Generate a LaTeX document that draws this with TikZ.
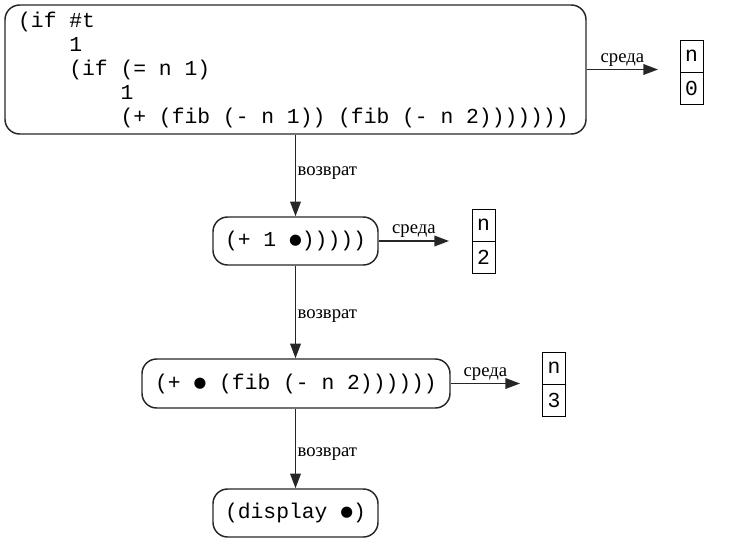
\documentclass[tikz,border=0pt]{standalone}
\usepackage{fontspec}
\setmainfont{Liberation Serif}
\setmonofont{Liberation Mono}
\newfontfamily\symfont{DejaVu Sans}
\usetikzlibrary{arrows.meta,positioning}
\newcommand{\hole}{\makebox[0.6em]{\raisebox{1.4pt}{\symfont\fontsize{11}{11}\selectfont ●}}}

\begin{document}
\begin{tikzpicture}[x=0.75pt,y=-0.75pt,
  expr/.style={draw=black!85,line width=1.1pt,rounded corners=11pt,inner sep=0pt,font=\ttfamily\fontsize{16}{18}\selectfont},
  cell/.style={draw,line width=0.6pt,inner sep=0pt,outer sep=0pt,minimum width=17.25pt,minimum height=24pt,font=\ttfamily\fontsize{16}{18}\selectfont},
  link/.style={draw=black!85,line width=1.1pt,-{Triangle[length=11pt,width=8pt]}},
  lbl/.style={font=\fontsize{14}{16}\selectfont,inner sep=2pt}]
 \useasboundingbox (0,0) rectangle (733,543);
 % expressions
 \node[expr,minimum width=435.75pt,minimum height=96.75pt,text width=416pt,align=left] (ifexpr) at (295.5,69.5)
   {\spaceskip=0.6em\relax\xspaceskip=0.6em\relax
    (if \#t\\\hspace*{2.4em}1\\\hspace*{2.4em}(if (= n 1)\\\hspace*{4.8em}1\\\hspace*{4.8em}(+ (fib (- n 1)) (fib (- n 2)))))))};
 \node[expr,minimum width=123.75pt,minimum height=36pt] (call1) at (295.5,241) {(+ 1 \hole)))))};
 \node[expr,minimum width=231pt,minimum height=36.75pt] (call2) at (296,383.5) {(+ \hole{} (fib (- n 2))))))};
 \node[expr,minimum width=123.75pt,minimum height=36pt] (call3) at (295.5,513) {(display \hole)};
 % environments
 \node[cell] (n0) at (691.5,56) {n}; \node[cell,below=0pt of n0] (v0) {0};
 \node[cell] (n2) at (483.5,225) {n}; \node[cell,below=0pt of n2] (v2) {2};
 \node[cell] (n3) at (554,368) {n}; \node[cell,below=0pt of n3] (v3) {3};
 \coordinate (e0) at (658,69.5);
 \coordinate (e2) at (449,241);
 \coordinate (e3) at (520,383.5);
 \draw[link] (ifexpr.east) -- node[lbl,above]{среда} (e0);
 \draw[link] (call1.east) -- node[lbl,above]{среда} (e2);
 \draw[link] (call2.east) -- node[lbl,above]{среда} (e3);
 \draw[link] (ifexpr.south) -- node[lbl,right,inner sep=1pt,yshift=2pt]{возврат} (call1.north);
 \draw[link] (call1.south) -- node[lbl,right,inner sep=1pt,yshift=-3pt]{возврат} (call2.north -| call1.south);
 \draw[link] (call2.south -| call3.north) -- node[lbl,right,inner sep=1pt,yshift=-4pt]{возврат} (call3.north);
\end{tikzpicture}
\end{document}
